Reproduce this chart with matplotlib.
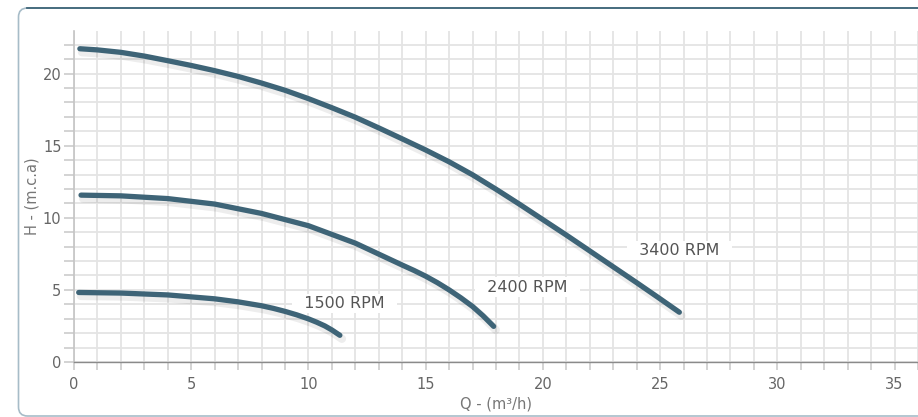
import matplotlib
matplotlib.use("Agg")
import matplotlib.pyplot as plt
import matplotlib.patheffects as pe
from matplotlib.patches import FancyBboxPatch
from matplotlib.ticker import MultipleLocator

# pump curves (Q in m3/h, H in m.c.a)
q_3400 = [0.25, 1, 2, 3, 4, 5, 6, 7, 8, 9, 10, 11, 12, 13, 14, 15, 16, 17, 18, 19, 20,
          21, 22, 23, 24, 25, 25.82]
h_3400 = [21.72, 21.64, 21.47, 21.21, 20.89, 20.56, 20.2, 19.8, 19.34, 18.84, 18.26, 17.63,
          16.97, 16.23, 15.47, 14.7, 13.88, 12.98, 11.98, 10.94, 9.87, 8.8, 7.7, 6.6, 5.5,
          4.38, 3.45]

q_2400 = [0.3, 2, 4, 6, 8, 10, 12, 14, 14.5, 15, 15.5, 16, 16.5, 17, 17.45, 17.9]
h_2400 = [11.57, 11.52, 11.33, 10.95, 10.3, 9.45, 8.24, 6.72, 6.35, 5.95, 5.5, 5.0, 4.45,
          3.85, 3.2, 2.47]

q_1500 = [0.2, 2, 4, 6, 7, 8, 8.5, 9, 9.5, 10, 10.35, 10.7, 11.0, 11.34]
h_1500 = [4.82, 4.78, 4.65, 4.38, 4.17, 3.9, 3.72, 3.51, 3.27, 2.99, 2.76, 2.5, 2.22, 1.85]

labels = ["3400 RPM", "2400 RPM", "1500 RPM"]
label_pos = [(25.83, 7.73), (19.34, 5.19), (11.54, 4.06)]

line_color = "#3e6477"
text_color = "#666666"

fig = plt.figure(figsize=(9.18, 4.17), dpi=100)

# card frame behind the chart
bg = fig.add_axes([0, 0, 1, 1], zorder=-1)
bg.set_xlim(0, 918)
bg.set_ylim(0, 417)
bg.axis("off")
bg.add_patch(FancyBboxPatch((18.5, 1), 960, 408, boxstyle="round,pad=0,rounding_size=9",
                            facecolor="white", edgecolor="#a7bcc8", linewidth=1.2))
bg.plot([27, 918], [409, 409], color="#3f6679", linewidth=1.3)

ax = fig.add_axes([74 / 918, 55 / 417, 844 / 918, 331 / 417])
ax.set_xlim(0, 36)
ax.set_ylim(0, 22.95)

ax.xaxis.set_major_locator(MultipleLocator(5))
ax.xaxis.set_minor_locator(MultipleLocator(1))
ax.yaxis.set_major_locator(MultipleLocator(5))
ax.yaxis.set_minor_locator(MultipleLocator(1))
ax.grid(True, which="both", color="#e4e4e4", linewidth=1.3)
ax.set_axisbelow(True)

for s in ["top", "right"]:
    ax.spines[s].set_visible(False)
ax.spines["left"].set_color("#c4c4c4")
ax.spines["bottom"].set_color("#8a8a8a")
ax.spines["left"].set_linewidth(1.2)
ax.spines["bottom"].set_linewidth(1.0)

ax.tick_params(axis="both", which="both", colors="#cccccc", labelcolor=text_color, labelsize=10.5)
ax.tick_params(axis="x", which="both", length=6, width=1.2, pad=5)
ax.tick_params(axis="y", which="both", length=7, width=1.2, pad=2)

shadow = [pe.SimpleLineShadow(offset=(1.5, -2.5), shadow_color="black", alpha=0.07, linewidth=6),
          pe.Normal()]
for q, h in [(q_3400, h_3400), (q_2400, h_2400), (q_1500, h_1500)]:
    ax.plot(q, h, color=line_color, linewidth=3.8, solid_capstyle="round",
            solid_joinstyle="round", path_effects=shadow, zorder=4)

for txt, (x, y) in zip(labels, label_pos):
    ax.text(x, y, "  " + txt + "  ", ha="center", va="center", fontsize=11.5,
            color="#555555", zorder=3,
            bbox=dict(boxstyle="square,pad=0.15", facecolor="white", edgecolor="none"))

ax.set_xlabel("Q - (m³/h)", fontsize=10.5, color="#777777", labelpad=3)
ax.set_ylabel("H - (m.c.a)", fontsize=10.5, color="#777777", labelpad=2)

fig.savefig("out.png", dpi=100)
